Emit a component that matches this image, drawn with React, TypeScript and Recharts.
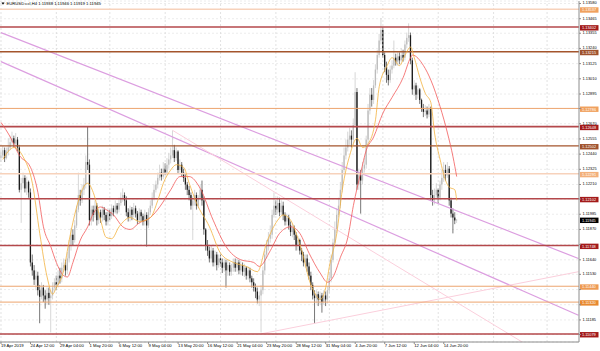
import React from 'react';
import { ComposedChart, Bar, Line, XAxis, YAxis, CartesianGrid, ReferenceLine } from 'recharts';

const FONT = 'Liberation Sans';

const openFirst = 1.1241;

const closes = [
  1.1243, 1.1247, 1.1241, 1.1246, 1.1249, 1.1253, 1.1256, 1.1252, 1.1255, 1.1249,
  1.1217, 1.1222, 1.1226, 1.1218, 1.1223, 1.1215, 1.1162, 1.1156, 1.1149, 1.1152,
  1.1141, 1.1136, 1.1143, 1.1137, 1.1134, 1.1139, 1.1135, 1.1137, 1.1143, 1.1147,
  1.1145, 1.1152, 1.1150, 1.1158, 1.1160, 1.1156, 1.1165, 1.1175, 1.1183, 1.1179,
  1.1190, 1.1202, 1.1213, 1.1209, 1.1217, 1.1221, 1.1238, 1.1236, 1.1194, 1.1202,
  1.1198, 1.1205, 1.1194, 1.1200, 1.1196, 1.1202, 1.1198, 1.1193, 1.1200, 1.1197,
  1.1203, 1.1200, 1.1205, 1.1202, 1.1207, 1.1211, 1.1213, 1.1209, 1.1200, 1.1196,
  1.1202, 1.1198, 1.1203, 1.1199, 1.1194, 1.1200, 1.1197, 1.1193, 1.1198, 1.1190,
  1.1200, 1.1205, 1.1211, 1.1217, 1.1221, 1.1226, 1.1230, 1.1227, 1.1233, 1.1230,
  1.1236, 1.1240, 1.1243, 1.1247, 1.1241, 1.1246, 1.1232, 1.1236, 1.1230, 1.1226,
  1.1221, 1.1217, 1.1213, 1.1205, 1.1209, 1.1213, 1.1205, 1.1211, 1.1217, 1.1209,
  1.1187, 1.1175, 1.1171, 1.1165, 1.1171, 1.1162, 1.1168, 1.1160, 1.1165, 1.1162,
  1.1158, 1.1162, 1.1156, 1.1160, 1.1155, 1.1158, 1.1162, 1.1158, 1.1162, 1.1156,
  1.1160, 1.1155, 1.1158, 1.1152, 1.1156, 1.1150, 1.1147, 1.1143, 1.1140, 1.1134,
  1.1137, 1.1141, 1.1156, 1.1168, 1.1175, 1.1180, 1.1183, 1.1198, 1.1205, 1.1202,
  1.1207, 1.1200, 1.1205, 1.1198, 1.1193, 1.1196, 1.1190, 1.1185, 1.1188, 1.1183,
  1.1175, 1.1179, 1.1171, 1.1168, 1.1162, 1.1165, 1.1159, 1.1152, 1.1145, 1.1137,
  1.1135, 1.1138, 1.1134, 1.1137, 1.1132, 1.1137, 1.1134, 1.1141, 1.1150, 1.1164,
  1.1177, 1.1187, 1.1198, 1.1205, 1.1217, 1.1232, 1.1243, 1.1249, 1.1255, 1.1258,
  1.1255, 1.1266, 1.1291, 1.1221, 1.1228, 1.1224, 1.1233, 1.1236, 1.1255, 1.1277,
  1.1289, 1.1285, 1.1296, 1.1308, 1.1319, 1.1330, 1.1338, 1.1319, 1.1310, 1.1304,
  1.1300, 1.1308, 1.1311, 1.1317, 1.1314, 1.1318, 1.1315, 1.1319, 1.1317, 1.1327,
  1.1332, 1.1334, 1.1315, 1.1293, 1.1296, 1.1289, 1.1293, 1.1285, 1.1279, 1.1276,
  1.1277, 1.1274, 1.1279, 1.1213, 1.1209, 1.1213, 1.1217, 1.1211, 1.1221, 1.1226,
  1.1232, 1.1228, 1.1233, 1.1209, 1.1199, 1.1196, 1.11938, 1.11945,
];

const highs = [
  1.1247, 1.1250, 1.1249, 1.1249, 1.1256, 1.1258, 1.1261, 1.1258, 1.1260, 1.1257,
  1.1251, 1.1226, 1.1230, 1.1228, 1.1227, 1.1224, 1.1218, 1.1168, 1.1160, 1.1156,
  1.1155, 1.1145, 1.1147, 1.1145, 1.1141, 1.1143, 1.1143, 1.1141, 1.1147, 1.1150,
  1.1152, 1.1156, 1.1158, 1.1162, 1.1165, 1.1164, 1.1170, 1.1179, 1.1188, 1.1187,
  1.1194, 1.1205, 1.1230, 1.1217, 1.1221, 1.1226, 1.1243, 1.1265, 1.1240, 1.1205,
  1.1205, 1.1209, 1.1207, 1.1203, 1.1202, 1.1205, 1.1204, 1.1200, 1.1203, 1.1202,
  1.1206, 1.1205, 1.1209, 1.1207, 1.1211, 1.1215, 1.1218, 1.1215, 1.1212, 1.1203,
  1.1205, 1.1204, 1.1207, 1.1205, 1.1201, 1.1203, 1.1202, 1.1199, 1.1202, 1.1200,
  1.1203, 1.1209, 1.1215, 1.1221, 1.1224, 1.1230, 1.1236, 1.1233, 1.1238, 1.1237,
  1.1241, 1.1245, 1.1249, 1.1262, 1.1251, 1.1249, 1.1247, 1.1240, 1.1238, 1.1233,
  1.1229, 1.1223, 1.1220, 1.1215, 1.1212, 1.1217, 1.1215, 1.1213, 1.1221, 1.1224,
  1.1212, 1.1188, 1.1179, 1.1174, 1.1175, 1.1173, 1.1171, 1.1170, 1.1168, 1.1168,
  1.1165, 1.1165, 1.1164, 1.1164, 1.1162, 1.1161, 1.1165, 1.1165, 1.1165, 1.1164,
  1.1163, 1.1162, 1.1161, 1.1159, 1.1159, 1.1158, 1.1152, 1.1150, 1.1146, 1.1143,
  1.1140, 1.1145, 1.1159, 1.1171, 1.1179, 1.1185, 1.1190, 1.1202, 1.1215, 1.1209,
  1.1212, 1.1211, 1.1209, 1.1208, 1.1200, 1.1199, 1.1198, 1.1193, 1.1191, 1.1190,
  1.1185, 1.1182, 1.1180, 1.1173, 1.1170, 1.1168, 1.1168, 1.1162, 1.1155, 1.1147,
  1.1141, 1.1141, 1.1140, 1.1140, 1.1139, 1.1141, 1.1140, 1.1144, 1.1155, 1.1168,
  1.1180, 1.1193, 1.1203, 1.1211, 1.1223, 1.1238, 1.1249, 1.1255, 1.1261, 1.1264,
  1.1262, 1.1271, 1.1306, 1.1294, 1.1233, 1.1232, 1.1238, 1.1241, 1.1258, 1.1282,
  1.1294, 1.1294, 1.1300, 1.1312, 1.1323, 1.1335, 1.1347, 1.1340, 1.1321, 1.1314,
  1.1308, 1.1311, 1.1315, 1.1330, 1.1320, 1.1321, 1.1321, 1.1324, 1.1323, 1.1330,
  1.1336, 1.1343, 1.1336, 1.1317, 1.1300, 1.1298, 1.1296, 1.1294, 1.1286, 1.1282,
  1.1281, 1.1280, 1.1282, 1.1280, 1.1217, 1.1218, 1.1222, 1.1218, 1.1224, 1.1232,
  1.1238, 1.1236, 1.1238, 1.1235, 1.1211, 1.1203, 1.1200, 1.11946,
];

const lows = [
  1.1238, 1.1241, 1.1238, 1.1240, 1.1243, 1.1247, 1.1251, 1.1249, 1.1250, 1.1246,
  1.1215, 1.1192, 1.1218, 1.1215, 1.1213, 1.1211, 1.1159, 1.1152, 1.1145, 1.1141,
  1.1137, 1.1116, 1.1134, 1.1132, 1.1127, 1.1130, 1.1130, 1.1109, 1.1134, 1.1140,
  1.1141, 1.1143, 1.1146, 1.1147, 1.1155, 1.1152, 1.1153, 1.1162, 1.1171, 1.1175,
  1.1177, 1.1188, 1.1200, 1.1205, 1.1207, 1.1213, 1.1218, 1.1232, 1.1190, 1.1190,
  1.1193, 1.1196, 1.1190, 1.1191, 1.1192, 1.1193, 1.1194, 1.1190, 1.1190, 1.1194,
  1.1195, 1.1197, 1.1199, 1.1199, 1.1200, 1.1205, 1.1208, 1.1205, 1.1197, 1.1193,
  1.1193, 1.1194, 1.1196, 1.1196, 1.1191, 1.1191, 1.1193, 1.1190, 1.1190, 1.1174,
  1.1188, 1.1198, 1.1203, 1.1209, 1.1215, 1.1218, 1.1224, 1.1224, 1.1225, 1.1228,
  1.1228, 1.1233, 1.1237, 1.1241, 1.1238, 1.1239, 1.1229, 1.1230, 1.1227, 1.1223,
  1.1217, 1.1213, 1.1209, 1.1202, 1.1179, 1.1205, 1.1202, 1.1203, 1.1209, 1.1205,
  1.1183, 1.1171, 1.1167, 1.1162, 1.1162, 1.1159, 1.1159, 1.1156, 1.1158, 1.1159,
  1.1154, 1.1155, 1.1143, 1.1152, 1.1152, 1.1152, 1.1155, 1.1155, 1.1155, 1.1153,
  1.1153, 1.1152, 1.1151, 1.1149, 1.1149, 1.1147, 1.1143, 1.1140, 1.1135, 1.1131,
  1.1129, 1.1109, 1.1138, 1.1153, 1.1165, 1.1171, 1.1177, 1.1180, 1.1196, 1.1198,
  1.1199, 1.1197, 1.1198, 1.1194, 1.1190, 1.1190, 1.1187, 1.1182, 1.1181, 1.1179,
  1.1171, 1.1171, 1.1168, 1.1163, 1.1159, 1.1158, 1.1155, 1.1149, 1.1141, 1.1134,
  1.1116, 1.1131, 1.1129, 1.1130, 1.1124, 1.1130, 1.1129, 1.1131, 1.1139, 1.1147,
  1.1162, 1.1174, 1.1184, 1.1196, 1.1203, 1.1215, 1.1230, 1.1240, 1.1246, 1.1251,
  1.1249, 1.1251, 1.1264, 1.1217, 1.1217, 1.1199, 1.1221, 1.1230, 1.1233, 1.1251,
  1.1274, 1.1280, 1.1282, 1.1294, 1.1305, 1.1317, 1.1327, 1.1317, 1.1306, 1.1298,
  1.1296, 1.1298, 1.1305, 1.1309, 1.1311, 1.1311, 1.1312, 1.1314, 1.1314, 1.1315,
  1.1324, 1.1329, 1.1312, 1.1289, 1.1288, 1.1285, 1.1286, 1.1282, 1.1276, 1.1272,
  1.1273, 1.1271, 1.1272, 1.1209, 1.1205, 1.1206, 1.1211, 1.1207, 1.1209, 1.1217,
  1.1223, 1.1224, 1.1226, 1.1205, 1.1196, 1.1184, 1.1191, 1.11919,
];

const fastBars = [1, 7, 12, 17, 21, 25, 28, 30, 34, 37, 41, 44, 47, 50, 54, 57, 60, 64, 70, 75, 81, 85, 88, 92, 95, 99, 102, 106, 113, 119, 126, 133, 139, 144, 150, 153, 157, 160, 164, 167, 170, 173, 176, 178, 182, 185, 189, 193, 196, 199, 203, 205, 209, 212, 216, 219, 222, 224, 227, 230, 233, 235, 238, 241, 243, 246, 247];
const fastVals = [1.1240, 1.1249, 1.1242, 1.1222, 1.1184, 1.1151, 1.1138, 1.1143, 1.1156, 1.1179, 1.1204, 1.1217, 1.1222, 1.1215, 1.1194, 1.1181, 1.1180, 1.1189, 1.1196, 1.1193, 1.1196, 1.1209, 1.1222, 1.1232, 1.1236, 1.1234, 1.1222, 1.1207, 1.1189, 1.1169, 1.1162, 1.1159, 1.1155, 1.1177, 1.1194, 1.1198, 1.1194, 1.1184, 1.1166, 1.1149, 1.1139, 1.1134, 1.1143, 1.1159, 1.1184, 1.1217, 1.1243, 1.1256, 1.1249, 1.1252, 1.1270, 1.1295, 1.1310, 1.1317, 1.1311, 1.1319, 1.1325, 1.1317, 1.1302, 1.1290, 1.1283, 1.1260, 1.1240, 1.1224, 1.1219, 1.1217, 1.1209];

const slowBars = [0, 5, 10, 16, 20, 23, 27, 30, 34, 36, 39, 43, 47, 50, 54, 57, 61, 66, 70, 75, 81, 86, 92, 97, 102, 108, 115, 122, 130, 137, 140, 146, 151, 157, 162, 167, 173, 177, 180, 184, 188, 191, 195, 198, 202, 207, 212, 218, 222, 223, 229, 233, 238, 242, 245, 247];
const slowVals = [1.1268, 1.1257, 1.1243, 1.1234, 1.1215, 1.1189, 1.1174, 1.1162, 1.1152, 1.1151, 1.1162, 1.1179, 1.1189, 1.1199, 1.1204, 1.1202, 1.1198, 1.1189, 1.1187, 1.1192, 1.1196, 1.1204, 1.1217, 1.1227, 1.1227, 1.1218, 1.1194, 1.1174, 1.1164, 1.1162, 1.1159, 1.1171, 1.1184, 1.1189, 1.1184, 1.1169, 1.1154, 1.1147, 1.1151, 1.1166, 1.1181, 1.1205, 1.1230, 1.1247, 1.1257, 1.1275, 1.1287, 1.1302, 1.1317, 1.1319, 1.1311, 1.1300, 1.1280, 1.1260, 1.1242, 1.1227];

const timeTickBars = [0, 16, 32, 48, 64, 80, 96, 112, 128, 144, 160, 176, 192, 208, 224, 240];
const timeTickLabels = ['19 Apr 2019', '24 Apr 12:00', '29 Apr 04:00', '1 May 20:00', '6 May 12:00', '9 May 04:00', '13 May 20:00', '16 May 12:00', '21 May 04:00', '23 May 20:00', '28 May 12:00', '31 May 04:00', '4 Jun 20:00', '7 Jun 12:00', '12 Jun 04:00', '14 Jun 20:00'];

const gridBars = [0, 30, 59, 89, 119, 149, 178, 207, 237, 267, 296];

const priceTicks = [1.1358, 1.13465, 1.13355, 1.1324, 1.13125, 1.1301, 1.12895, 1.12785, 1.1267, 1.12555, 1.1244, 1.12325, 1.1221, 1.121, 1.11985, 1.1187, 1.11755, 1.1164, 1.1153, 1.11415, 1.113, 1.11185, 1.11075];
// ticks whose labels are covered by the level boxes in the picture
const coveredTicks = [1.12785, 1.121, 1.11755, 1.11415, 1.113, 1.11075];

const levelPrices = [1.13537, 1.13402, 1.13215, 1.12786, 1.12648, 1.12502, 1.12291, 1.12102, 1.11748, 1.1144, 1.1132, 1.11079];
const levelStroke = ['#f7d2bb', '#b4484b', '#a4552c', '#eda46e', '#b4484b', '#a4552c', '#f7d2bb', '#b4484b', '#b4484b', '#eda46e', '#eda46e', '#b4484b'];
const levelWidth = [1.6, 1.6, 1.3, 1, 1.6, 1.3, 1.6, 1.6, 1.6, 1, 1, 1.6];
const levelBox = ['#f0a15e', '#a31a1a', '#a0522d', '#f0a15e', '#a31a1a', '#a0522d', '#f3b07a', '#a31a1a', '#a31a1a', '#ee9a52', '#e8892f', '#a31a1a'];

const currentPrice = 1.11945;

const trendPurpleA = [{ x: 0, y: 1.1336 }, { x: 313, y: 1.1165 }];
const trendPurpleB = [{ x: 0, y: 1.1314 }, { x: 313, y: 1.1122 }];
const trendPinkC = [{ x: 93, y: 1.1262 }, { x: 300, y: 1.1087 }];
const trendPinkD = [{ x: 141, y: 1.1108 }, { x: 313, y: 1.1155 }];

const data = closes.map((c, i) => ({
  i,
  open: i === 0 ? openFirst : closes[i - 1],
  close: c,
  high: highs[i],
  low: lows[i],
  range: [lows[i], highs[i]],
  fast: null as number | null,
  slow: null as number | null,
}));
fastBars.forEach((b, k) => { data[b].fast = fastVals[k]; });
slowBars.forEach((b, k) => { data[b].slow = slowVals[k]; });

const labelFor = (v: number) => {
  const k = timeTickBars.indexOf(v);
  return k >= 0 ? timeTickLabels[k] : '';
};

const Candle = (props: any) => {
  const { x, y, width, height, payload } = props;
  if (x == null || y == null || !payload) return null;
  const top = Math.min(y, y + height);
  const h = Math.abs(height);
  const cx = x + width / 2;
  const { open, close, high, low } = payload;
  const span = high - low;
  const toY = (p: number) => (span > 0 ? top + ((high - p) / span) * h : top);
  const up = close >= open;
  const color = up ? '#bcbcbc' : '#1c1c1c';
  const bt = toY(Math.max(open, close));
  const bb = toY(Math.min(open, close));
  return (
    <g>
      <line x1={cx} x2={cx} y1={top} y2={top + h} stroke={color} strokeWidth={0.6} />
      <rect x={cx - 0.65} y={bt} width={1.3} height={Math.max(bb - bt, 0.6)} fill={color} />
    </g>
  );
};

const LevelBox = (props: any) => {
  const { viewBox, text, fill } = props;
  if (!viewBox) return null;
  const right = viewBox.x + viewBox.width;
  const cy = viewBox.y + 0.8;
  return (
    <g>
      <rect x={right + 1} y={cy - 2.7} width={18.5} height={5.4} fill={fill} />
      <text x={right + 3} y={cy + 1.4} fontSize={3.9} fill="#ffffff" fontFamily={FONT}>{text}</text>
    </g>
  );
};

const PriceTick = (props: any) => {
  const { x, y, payload } = props;
  if (coveredTicks.indexOf(payload.value) >= 0) return null;
  return (
    <text x={x} y={y} dy={0.9} fontSize={3.9} fill="#000" fontFamily={FONT} textAnchor="start">
      {Number(payload.value).toFixed(5)}
    </text>
  );
};

const TimeTick = (props: any) => {
  const { x, y, payload } = props;
  return (
    <text x={x} y={y} dy={3.2} fontSize={4.2} fill="#000" fontFamily={FONT} textAnchor="start">
      {labelFor(payload.value)}
    </text>
  );
};

export default function App() {
  return (
    <div style={{ position: 'absolute', left: 0, top: 0, width: 600, height: 351, background: '#fff' }}>
      <ComposedChart width={600} height={351} data={data} margin={{ top: 1, right: 0, bottom: 0, left: 0 }}>
        <CartesianGrid vertical={false} stroke="#ececec" strokeDasharray="2 2" />
        <XAxis
          type="number"
          dataKey="i"
          domain={[-0.54, 313.3]}
          allowDataOverflow
          ticks={timeTickBars}
          interval={0}
          height={9}
          tickSize={2}
          tickMargin={0}
          tick={<TimeTick />}
          axisLine={{ stroke: '#8c8c8c' }}
          tickLine={{ stroke: '#8c8c8c' }}
        />
        <YAxis
          orientation="right"
          width={21}
          domain={[1.11018, 1.13599]}
          allowDataOverflow
          ticks={priceTicks}
          interval={0}
          tick={<PriceTick />}
          tickSize={2}
          tickMargin={1.5}
          axisLine={{ stroke: '#8c8c8c' }}
          tickLine={{ stroke: '#8c8c8c' }}
        />
        {gridBars.map((b) => (
          <ReferenceLine key={'g' + b} x={b} stroke="#d6d6d6" strokeDasharray="2 2" strokeWidth={0.7} />
        ))}
        <ReferenceLine segment={trendPurpleA} stroke="#dc9ee0" strokeWidth={1.2} ifOverflow="hidden" />
        <ReferenceLine segment={trendPurpleB} stroke="#dc9ee0" strokeWidth={1.2} ifOverflow="hidden" />
        <ReferenceLine segment={trendPinkC} stroke="#fbcfdc" strokeWidth={1} ifOverflow="hidden" />
        <ReferenceLine segment={trendPinkD} stroke="#fbcfdc" strokeWidth={1} ifOverflow="hidden" />
        {levelPrices.map((p, k) => (
          <ReferenceLine
            key={'l' + p}
            y={p}
            stroke={levelStroke[k]}
            strokeWidth={levelWidth[k]}
            label={<LevelBox text={p.toFixed(5)} fill={levelBox[k]} />}
          />
        ))}
        <ReferenceLine
          y={currentPrice}
          stroke="#000"
          strokeOpacity={0}
          label={<LevelBox text={currentPrice.toFixed(5)} fill="#000000" />}
        />
        <Bar dataKey="range" barSize={2} shape={<Candle />} isAnimationActive={false} />
        <Line dataKey="slow" type="monotone" stroke="#f25a5a" strokeWidth={0.8} dot={false} connectNulls isAnimationActive={false} />
        <Line dataKey="fast" type="monotone" stroke="#f3b240" strokeWidth={0.8} dot={false} connectNulls isAnimationActive={false} />
      </ComposedChart>
      <svg width={200} height={10} style={{ position: 'absolute', left: 0, top: 0 }}>
        <path d="M1.5 2.6 L4.5 2.6 L3 4.8 Z" fill="#000" />
        <text x={6.5} y={5.4} fontSize={4.2} fill="#000" fontFamily={FONT}>
          EURUSD.ccl,H4  1.11938 1.11946 1.11919 1.11945
        </text>
      </svg>
    </div>
  );
}
